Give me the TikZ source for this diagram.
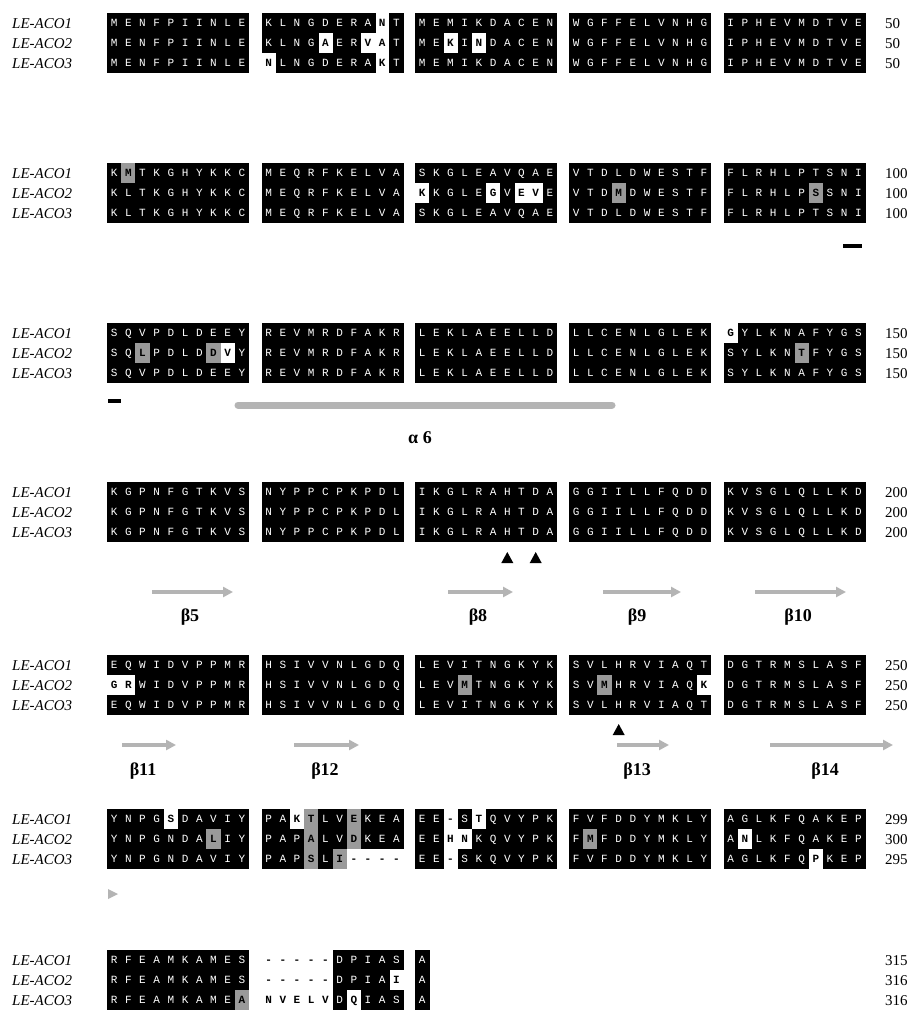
\documentclass[tikz,border=0pt]{standalone}
\usepackage{fontspec}
\setmainfont{Liberation Serif}
\newfontfamily\resfont{Liberation Mono}
\usetikzlibrary{arrows.meta}
\definecolor{hlgray}{HTML}{9A9A9A}
\definecolor{ssgray}{HTML}{B4B4B4}
\newcount\cellcnt
\newcount\cellid
\def\cw{14.2}
\def\gA{107}\def\gB{261.5}\def\gC{415}\def\gD{569}\def\gE{723.5}
\tikzset{
  res/.style={font=\resfont\fontsize{11}{11}\selectfont, inner sep=0pt, anchor=base, text=white},
  resb/.style={font=\resfont\bfseries\fontsize{11}{11}\selectfont, inner sep=0pt, anchor=base, text=black},
  lab/.style={font=\fontsize{15}{15}\selectfont\itshape, inner sep=0pt, anchor=base west},
  num/.style={font=\fontsize{15}{15}\selectfont, inner sep=0pt, anchor=base west},
  sslab/.style={font=\fontsize{18}{18}\selectfont\bfseries, inner sep=0pt, anchor=base},
  strand/.style={ssgray, line width=3.5pt, -{Triangle[length=10pt,width=10pt]}},
  blackbar/.style={black, line width=3.5pt},
  tri/.style={fill=black, draw=none}
}
\newcommand\drawcell[1]{%
  \global\advance\cellid by 1
  \pgfmathsetmacro\cellxl{\cx+\cw*\the\cellcnt}%
  \pgfmathsetmacro\cellxc{\cellxl+\cw/2}%
  \if\ctype g\fill[hlgray] (\cellxl,\cy-10) rectangle (\cellxl+\cw+0.4,\cy+10.4);\fi
  \if\ctype b\fill[black] (\cellxl,\cy-10) rectangle (\cellxl+\cw+0.4,\cy+10.4);%
    \node[res] (c\the\cellid) at (\cellxc,\cy+3.8) {#1};%
  \else\node[resb] (c\the\cellid) at (\cellxc,\cy+3.8) {#1};\fi}
\def\parsecells#1{%
  \ifx#1\relax\def\pcNext{}%
  \else
    \ifx#1!\def\ctype{w}\else
    \ifx#1*\def\ctype{g}\else
      \drawcell{#1}\def\ctype{b}\global\advance\cellcnt by 1\relax
    \fi\fi
    \def\pcNext{\parsecells}%
  \fi\pcNext}
\newcommand\seqgrp[3]{\def\cx{#1}\def\cy{#2}\def\ctype{b}\global\cellcnt=0 \parsecells#3\relax}
% row: y, label, number, five groups
\newcommand\seqrow[8]{%
  \node[lab] (l#2#1) at (12,#1+5) {#2};
  \node[num] (n#2#1) at (885,#1+5) {#3};
  \seqgrp{\gA}{#1}{#4}\seqgrp{\gB}{#1}{#5}\seqgrp{\gC}{#1}{#6}\seqgrp{\gD}{#1}{#7}\seqgrp{\gE}{#1}{#8}}
\begin{document}
\begin{tikzpicture}[x=1pt,y=-1pt]
\fill[white] (0,0) rectangle (911,1018);
\useasboundingbox (0,0) rectangle (911,1018);
% Block 1
\seqrow{23}{LE-ACO1}{50}{MENFPIINLE}{KLNGDERA!NT}{MEMIKDACEN}{WGFFELVNHG}{IPHEVMDTVE}
\seqrow{43}{LE-ACO2}{50}{MENFPIINLE}{KLNG!AER!V!AT}{ME!KI!NDACEN}{WGFFELVNHG}{IPHEVMDTVE}
\seqrow{63}{LE-ACO3}{50}{MENFPIINLE}{!NLNGDERA!KT}{MEMIKDACEN}{WGFFELVNHG}{IPHEVMDTVE}
% Block 2
\seqrow{173}{LE-ACO1}{100}{K*MTKGHYKKC}{MEQRFKELVA}{SKGLEAVQAE}{VTDLDWESTF}{FLRHLPTSNI}
\seqrow{193}{LE-ACO2}{100}{KLTKGHYKKC}{MEQRFKELVA}{!KKGLE!GV!E!VE}{VTD*MDWESTF}{FLRHLP*SSNI}
\seqrow{213}{LE-ACO3}{100}{KLTKGHYKKC}{MEQRFKELVA}{SKGLEAVQAE}{VTDLDWESTF}{FLRHLPTSNI}
\coordinate (barAa) at (843,246); \coordinate (barAb) at (862,246);
\draw[blackbar] (barAa) -- (barAb);
% Block 3
\seqrow{333}{LE-ACO1}{150}{SQVPDLDEEY}{REVMRDFAKR}{LEKLAEELLD}{LLCENLGLEK}{!GYLKNAFYGS}
\seqrow{353}{LE-ACO2}{150}{SQ*LPDLD*D!VY}{REVMRDFAKR}{LEKLAEELLD}{LLCENLGLEK}{SYLKN*TFYGS}
\seqrow{373}{LE-ACO3}{150}{SQVPDLDEEY}{REVMRDFAKR}{LEKLAEELLD}{LLCENLGLEK}{SYLKNAFYGS}
\coordinate (barBa) at (108,401); \coordinate (barBb) at (121,401);
\draw[blackbar] (barBa) -- (barBb);
\coordinate (helA) at (238,405); \coordinate (helB) at (612,405);
\draw[ssgray, line width=7pt, line cap=round] (helA) -- (helB);
\node[sslab] (a6) at (420,443) {α 6};
% Block 4
\seqrow{492}{LE-ACO1}{200}{KGPNFGTKVS}{NYPPCPKPDL}{IKGLRAHTDA}{GGIILLFQDD}{KVSGLQLLKD}
\seqrow{512}{LE-ACO2}{200}{KGPNFGTKVS}{NYPPCPKPDL}{IKGLRAHTDA}{GGIILLFQDD}{KVSGLQLLKD}
\seqrow{532}{LE-ACO3}{200}{KGPNFGTKVS}{NYPPCPKPDL}{IKGLRAHTDA}{GGIILLFQDD}{KVSGLQLLKD}
\fill[tri] (501.3,563) -- (513.3,563) -- (507.3,552) -- cycle;
\fill[tri] (529.7,563) -- (541.7,563) -- (535.7,552) -- cycle;
\coordinate (b5a) at (152,592); \coordinate (b5b) at (233,592);
\coordinate (b8a) at (448,592); \coordinate (b8b) at (513,592);
\coordinate (b9a) at (603,592); \coordinate (b9b) at (681,592);
\coordinate (b10a) at (755,592); \coordinate (b10b) at (846,592);
\draw[strand] (b5a) -- (b5b); \draw[strand] (b8a) -- (b8b);
\draw[strand] (b9a) -- (b9b); \draw[strand] (b10a) -- (b10b);
\node[sslab] (lb5) at (190,621) {β5};
\node[sslab] (lb8) at (478,621) {β8};
\node[sslab] (lb9) at (637,621) {β9};
\node[sslab] (lb10) at (798,621) {β10};
% Block 5
\seqrow{665}{LE-ACO1}{250}{EQWIDVPPMR}{HSIVVNLGDQ}{LEVITNGKYK}{SVLHRVIAQT}{DGTRMSLASF}
\seqrow{685}{LE-ACO2}{250}{!G!RWIDVPPMR}{HSIVVNLGDQ}{LEV*MTNGKYK}{SV*MHRVIAQ!K}{DGTRMSLASF}
\seqrow{705}{LE-ACO3}{250}{EQWIDVPPMR}{HSIVVNLGDQ}{LEVITNGKYK}{SVLHRVIAQT}{DGTRMSLASF}
\fill[tri] (612.7,735) -- (624.7,735) -- (618.7,724) -- cycle;
\coordinate (b11a) at (122,745); \coordinate (b11b) at (176,745);
\coordinate (b12a) at (294,745); \coordinate (b12b) at (359,745);
\coordinate (b13a) at (617,745); \coordinate (b13b) at (669,745);
\coordinate (b14a) at (770,745); \coordinate (b14b) at (893,745);
\draw[strand] (b11a) -- (b11b); \draw[strand] (b12a) -- (b12b);
\draw[strand] (b13a) -- (b13b); \draw[strand] (b14a) -- (b14b);
\node[sslab] (lb11) at (143,775) {β11};
\node[sslab] (lb12) at (325,775) {β12};
\node[sslab] (lb13) at (637,775) {β13};
\node[sslab] (lb14) at (825,775) {β14};
% Block 6
\seqrow{819}{LE-ACO1}{299}{YNPG!SDAVIY}{PA!K*TLV*EKEA}{EE!-S!TQVYPK}{FVFDDYMKLY}{AGLKFQAKEP}
\seqrow{839}{LE-ACO2}{300}{YNPGNDA*LIY}{PAP*ALV*DKEA}{EE!H!NKQVYPK}{F*MFDDYMKLY}{A!NLKFQAKEP}
\seqrow{859}{LE-ACO3}{295}{YNPGNDAVIY}{PAP*SL*I!-!-!-!-}{EE!-SKQVYPK}{FVFDDYMKLY}{AGLKFQ!PKEP}
\fill[ssgray] (108,889) -- (118,894) -- (108,899) -- cycle;
% Block 7
\node[lab] (l7a) at (12,965) {LE-ACO1};
\node[num] (n7a) at (885,965) {315};
\seqgrp{\gA}{960}{RFEAMKAMES}\seqgrp{\gB}{960}{!-!-!-!-!-DPIAS}\seqgrp{\gC}{960}{A}
\node[lab] (l7b) at (12,985) {LE-ACO2};
\node[num] (n7b) at (885,985) {316};
\seqgrp{\gA}{980}{RFEAMKAMES}\seqgrp{\gB}{980}{!-!-!-!-!-DPIA!I}\seqgrp{\gC}{980}{A}
\node[lab] (l7c) at (12,1005) {LE-ACO3};
\node[num] (n7c) at (885,1005) {316};
\seqgrp{\gA}{1000}{RFEAMKAME*A}\seqgrp{\gB}{1000}{!N!V!E!L!VD!QIAS}\seqgrp{\gC}{1000}{A}
\end{tikzpicture}
\end{document}
